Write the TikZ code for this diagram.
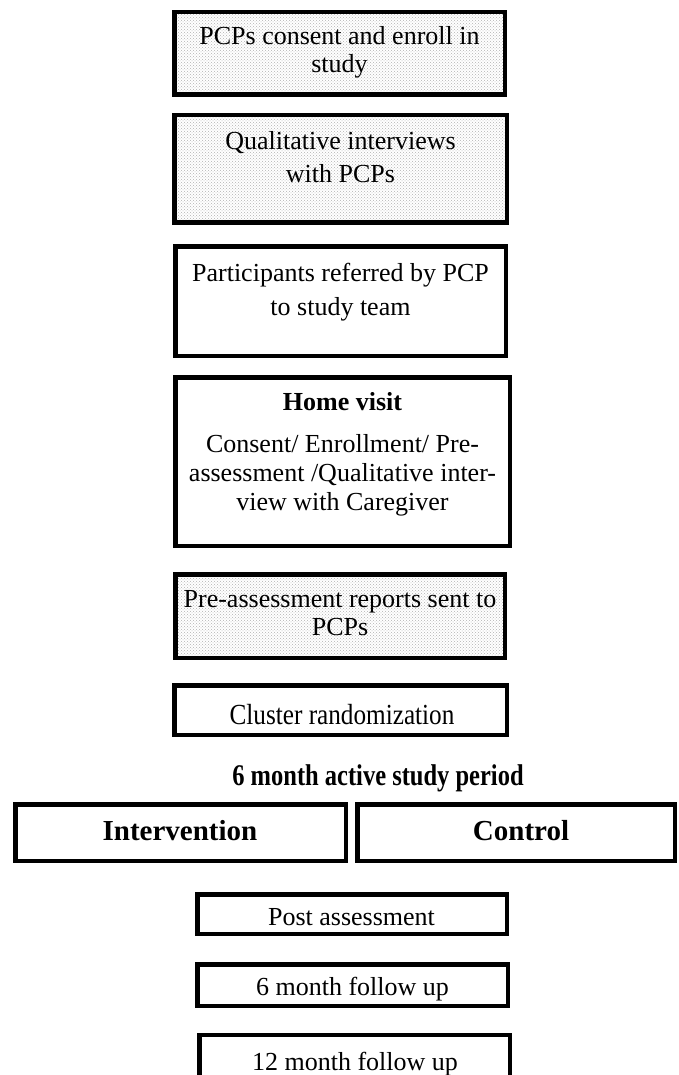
\documentclass[tikz,border=0pt]{standalone}
\usepackage{fontspec}
\setmainfont{Liberation Serif}
\usetikzlibrary{patterns}
\newcommand{\sline}[1]{\strut#1}
\begin{document}
\begin{tikzpicture}[x=1pt,y=-1pt,
  boxframe/.style={draw=black, line width=4.5pt, inner sep=0pt, outer sep=0pt},
  dotfill/.style={pattern=crosshatch dots, pattern color=gray!60},
  txt/.style={inner sep=0pt, outer sep=0pt, align=center, font={\fontsize{26}{28}\selectfont}},
  big/.style={inner sep=0pt, outer sep=0pt, font={\fontsize{29}{32}\selectfont\bfseries}},
]
\useasboundingbox (0,0) rectangle (678,1075);
\clip (0,0) rectangle (678,1075);
\fill[white] (0,0) rectangle (678,1075);

% boxes
\node[boxframe, dotfill, minimum width=330.5, minimum height=82.5] (b1) at (339.5,53.5) {};
\node[boxframe, dotfill, minimum width=332.5, minimum height=107.5] (b2) at (340.5,169) {};
\node[boxframe, minimum width=330.5, minimum height=109.5] (b3) at (340.5,301) {};
\node[boxframe, minimum width=334.5, minimum height=168.5] (b4) at (342.5,461.5) {};
\node[boxframe, dotfill, minimum width=329.5, minimum height=83.5] (b5) at (340,616) {};
\node[boxframe, minimum width=332.5, minimum height=49.5] (b6) at (340.5,710) {};
\node[boxframe, minimum width=330.5, minimum height=56.5] (bint) at (180.5,832.5) {};
\node[boxframe, minimum width=317.5, minimum height=56.5] (bctl) at (516,832.5) {};
\node[boxframe, minimum width=309.5, minimum height=39.5] (bpost) at (352,914) {};
\node[boxframe, minimum width=310.5, minimum height=41.5] (bsix) at (352.5,985) {};
\node[boxframe, minimum width=310.5, minimum height=63] (btwelve) at (354.5,1066.5) {};

% texts
\node[txt] (t1) at (339.5,53.4) {\sline{PCPs consent and enroll in}\\\sline{study}};
\node[txt, font={\fontsize{26}{33}\selectfont}] (t2) at (340.5,159.9) {\sline{Qualitative interviews}\\\sline{with PCPs}};
\node[txt, font={\fontsize{26}{34}\selectfont}] (t3) at (340.5,291.2) {\sline{Participants referred by PCP}\\\sline{to study team}};
\node[txt, font={\fontsize{26}{29}\selectfont}] (t4) at (342.5,454.2) {\sline{\textbf{Home visit}}\\[13pt]\sline{Consent/ Enrollment/ Pre-}\\\sline{assessment /Qualitative inter-}\\\sline{view with Caregiver}};
\node[txt] (t5) at (340,615.4) {\sline{Pre-assessment reports sent to}\\\sline{PCPs}};
\node[txt, anchor=base] (t6) at (342,724) {\scalebox{0.97}[1.12]{Cluster randomization}};
\node[big, anchor=base, font={\fontsize{25}{28}\selectfont\bfseries}] (title) at (378,785) {\scalebox{0.98}[1.2]{6 month active study period}};
\node[big, anchor=base] (tint) at (180,840) {Intervention};
\node[big, anchor=base] (tctl) at (521,840) {Control};
\node[txt, anchor=base] (tpost) at (351.5,925) {Post assessment};
\node[txt, anchor=base] (tsix) at (352.5,995) {6 month follow up};
\node[txt, anchor=base] (ttwelve) at (355,1070) {12 month follow up};
\end{tikzpicture}
\end{document}
